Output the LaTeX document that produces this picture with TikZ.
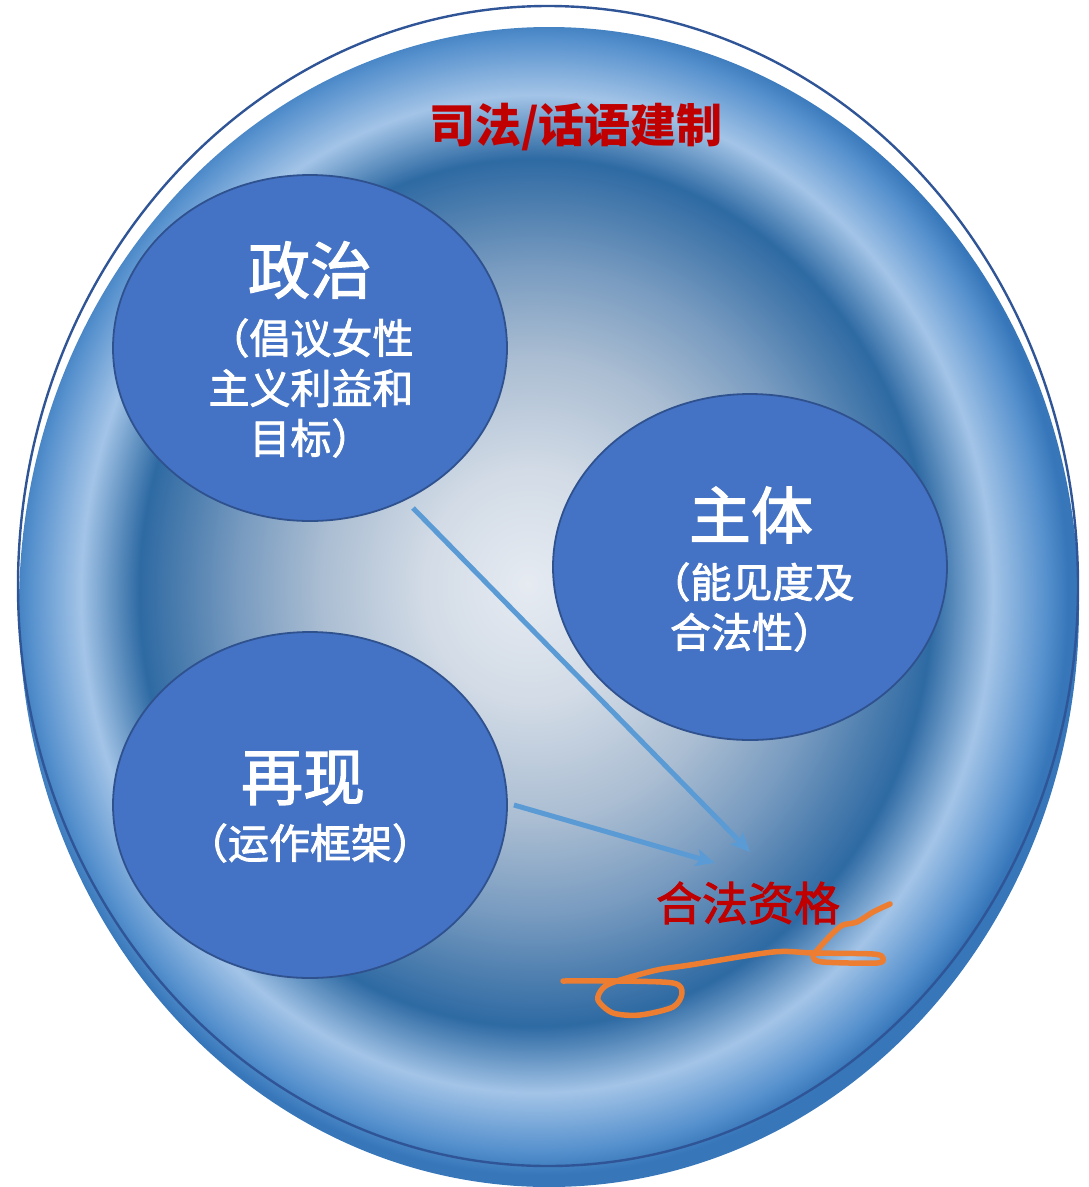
\documentclass[tikz,border=0pt]{standalone}
\usepackage{fontspec}
\newfontfamily\cjk{Noto Sans CJK SC}
\newfontfamily\cjkm[FakeBold=2]{Noto Sans CJK SC}
\usetikzlibrary{shapes.geometric,arrows.meta}
\definecolor{c0}{HTML}{E6EBF2}
\definecolor{c1}{HTML}{D2DBE6}
\definecolor{c2}{HTML}{AABDD2}
\definecolor{c3}{HTML}{789BC0}
\definecolor{c3b}{HTML}{5080B0}
\definecolor{c4}{HTML}{2E6AA3}
\definecolor{c5}{HTML}{A3C4E7}
\definecolor{c6}{HTML}{5590CD}
\definecolor{c7}{HTML}{3676B9}
\definecolor{nodefill}{HTML}{4472C4}
\definecolor{nodeline}{HTML}{2F528F}
\definecolor{rimline}{HTML}{2F5597}
\definecolor{redtxt}{HTML}{C00000}
\definecolor{arrblue}{HTML}{5B9BD5}
\definecolor{scrib}{HTML}{ED7D31}
\pgfdeclareradialshading{bowl}{\pgfpoint{-1bp}{1bp}}{color(0bp)=(c0); color(5bp)=(c1); color(10bp)=(c2); color(14bp)=(c3); color(16.5bp)=(c3b); color(18.7bp)=(c4); color(21.5bp)=(c5); color(24bp)=(c6); color(25bp)=(c7); color(50bp)=(c7)}
\tikzset{
  topic/.style={ellipse, draw=nodeline, line width=1.8pt, fill=nodefill, minimum width=394, minimum height=346, inner sep=0pt},
  bigtxt/.style={text=white, font=\cjkm\fontsize{62}{70}\selectfont, inner sep=0pt},
  subtxt/.style={text=white, font=\cjkm\fontsize{41}{50}\selectfont, inner sep=0pt, align=center},
  redlabel/.style={text=redtxt, font=\cjkm\fontsize{46}{50}\selectfont, inner sep=0pt},
  arr/.style={draw=arrblue, line width=5pt, -{Stealth[length=19pt, width=17pt, inset=4pt]}},
}
\begin{document}
\begin{tikzpicture}[x=1pt, y=-1pt]
\path[use as bounding box] (0,0) rectangle (1089,1187);
% bowl
\shade[shading=bowl] (549,607) ellipse [x radius=530, y radius=580];
\draw[rimline, line width=2.4pt] (548,586) ellipse [x radius=530, y radius=580];
% title
\node[redlabel, font=\cjk\bfseries\fontsize{46}{50}\selectfont] (title) at (576,127) {司法/话语建制};
% topic ellipses
\node[topic] (zz) at (310,348) {};
\node[topic] (zt) at (750,567) {};
\node[topic] (zx) at (310,805) {};
% texts
\node[bigtxt] (zzt) at (310,270) {政治};
\node[subtxt] (zzs) at (311,388) {（倡议女性\\主义利益和\\目标）};
\node[bigtxt] (ztt) at (751,515) {主体};
\node[subtxt] (zts) at (752,607) {（能见度及\\合法性）};
\node[bigtxt] (zxt) at (303,778) {再现};
\node[subtxt] (zxs) at (310,843) {（运作框架）};
\node[redlabel] (goal) at (748,903) {合法资格};
% arrows
\coordinate (s1) at (413,508);
\coordinate (t1) at (750,852);
\coordinate (t2) at (715,863);
\draw[arr] (s1) -- (t1);
\draw[arr] ([xshift=6pt]zx.east) -- (t2);
% scribble
\draw[scrib, line width=5.5pt, line cap=round, line join=round]
  plot[smooth, tension=0.5] coordinates {(563,981) (617,981) (673,983) (682,993) (673,1007) (640,1015) (613,1013) (598,1000) (603,988) (617,981) (657,970) (690,965) (773,952) (813,953) (873,954) (883,958) (877,963) (823,962) (813,957) (820,947) (833,933) (843,925) (857,922) (873,912) (890,904)};
\end{tikzpicture}
\end{document}
